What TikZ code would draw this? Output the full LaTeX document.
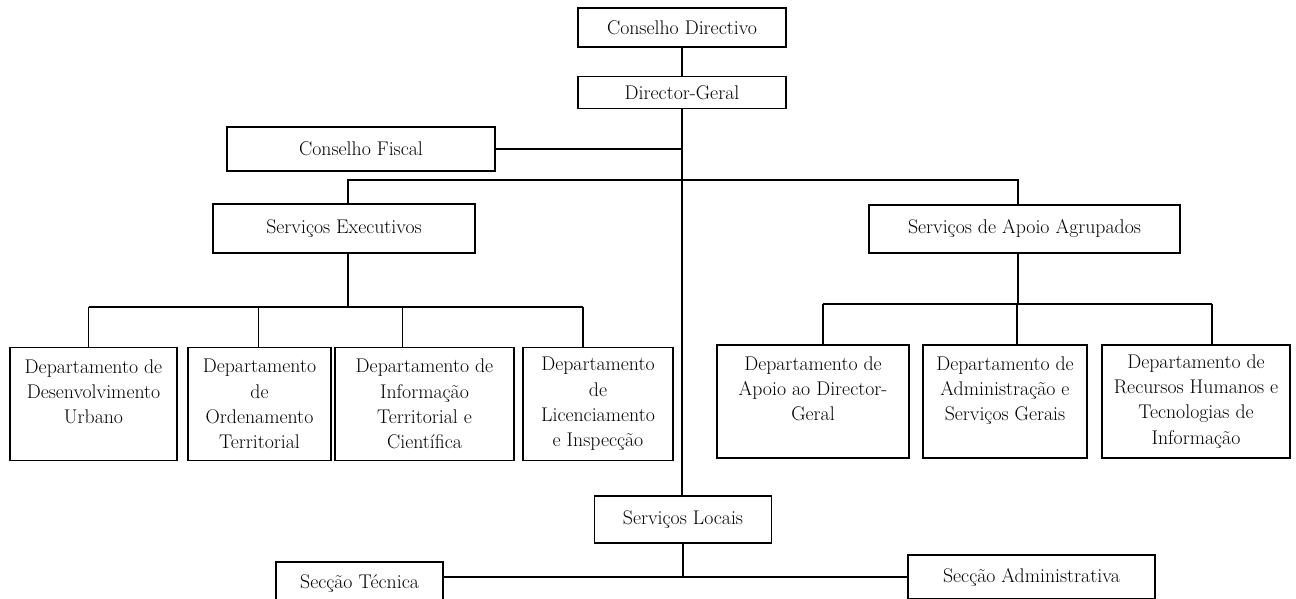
\documentclass[tikz,border=0pt]{standalone}
\usepackage{fontspec}
\usetikzlibrary{positioning}

\tikzset{
  orgbox/.style={draw, line width=1.3pt, align=center, inner sep=0pt,
    font=\fontsize{19.8}{25.2}\selectfont},
  deptbox/.style={orgbox, minimum height=113pt},
  link/.style={line width=1.2pt}
}

\begin{document}
\begin{tikzpicture}[x=1pt,y=-1pt]

\useasboundingbox (0,0) rectangle (1296,599);
\clip (0,0) rectangle (1296,599);

% top of the chart
\node[orgbox, minimum width=208pt, minimum height=39pt] (cd) at (682,27.5) {Conselho Directivo};
\node[orgbox, minimum width=208pt, minimum height=32pt, below=28pt of cd] (dg) {Director-Geral};
\node[orgbox, minimum width=268pt, minimum height=44pt] (cf) at (361,149) {Conselho Fiscal};

\node[orgbox, minimum width=262pt, minimum height=49pt] (se) at (344,228.5) {Serviços Executivos};
\node[orgbox, minimum width=311pt, minimum height=48pt] (saa) at (1024.5,229) {Serviços de Apoio Agrupados};

% departments
\foreach \i/\xc/\w/\txt in {1/93.5/167/{Departamento de\\Desenvolvimento\\Urbano\\~},
    2/259.5/143/{Departamento\\de\\Ordenamento\\Territorial},
    3/424.5/179/{Departamento de\\Informação\\Territorial e\\Científica},
    4/598/150/{Departamento\\de\\Licenciamento\\e Inspecção}}
  \node[deptbox, minimum width=\w pt] (d\i) at (\xc,404) {\txt};

\foreach \i/\xc/\w/\txt in {1/813/192/{Departamento de\\Apoio ao Director-\\Geral\\~},
    2/1005/164/{Departamento de\\Administração e\\Serviços Gerais\\~},
    3/1196/188/{Departamento de\\Recursos Humanos e\\Tecnologias de\\Informação}}
  \node[deptbox, minimum width=\w pt] (r\i) at (\xc,401.5) {\txt};

% local services
\node[orgbox, minimum width=177pt, minimum height=47pt] (sl) at (683,519.5) {Serviços Locais};
\node[orgbox, minimum width=167pt, minimum height=44pt] (st) at (359.5,584) {Secção Técnica};
\node[orgbox, minimum width=247pt, minimum height=44pt] (sa) at (1031.5,577) {Secção Administrativa};

\coordinate (top bar) at (682,180);
\coordinate (left bar) at (0,307);
\coordinate (right bar) at (0,304);
\coordinate (low bar) at (682,577);

\draw[link] (cd) -- (dg);
\draw[link] (dg.south) -- (dg.south |- sl.north);
\draw[link] (cf.east) -- (cf.east -| dg.south);
\draw[link] ([xshift=4pt]se.north) |- (top bar) -| ([xshift=-6.5pt]saa.north);

\draw[link] ([xshift=4pt]se.south) -- ([xshift=4pt]se.south |- left bar);
\foreach \n/\s in {d1/-5,d2/-1,d3/-22,d4/-15}
  \draw[link] ([xshift=\s pt]\n.north) -- ([xshift=\s pt]\n.north |- left bar);
\draw[link] ([xshift=-5pt]d1.north |- left bar) -- ([xshift=-15pt]d4.north |- left bar);

\draw[link] ([xshift=-6.5pt]saa.south) -- ([xshift=-6.5pt]saa.south |- right bar);
\foreach \n/\s in {r1/10,r2/12,r3/16}
  \draw[link] ([xshift=\s pt]\n.north) -- ([xshift=\s pt]\n.north |- right bar);
\draw[link] ([xshift=10pt]r1.north |- right bar) -- ([xshift=16pt]r3.north |- right bar);

\draw[link] (sl.south) -- (sl.south |- low bar);
\draw[link] (st.east |- low bar) -- (sa.west |- low bar);

\end{tikzpicture}
\end{document}
